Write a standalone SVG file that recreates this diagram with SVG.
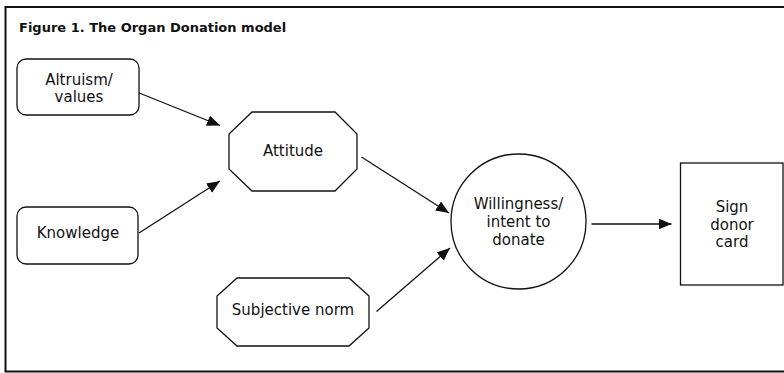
<svg xmlns="http://www.w3.org/2000/svg" width="784" height="373" viewBox="0 0 784 373">
<style>
  .node { fill: #fff; stroke: #111; stroke-width: 1.3; }
  .lbl { font-family: "DejaVu Sans", "Liberation Sans", sans-serif; font-size: 15px; fill: #111; text-anchor: middle; }
  .title { font-family: "DejaVu Sans", "Liberation Sans", sans-serif; font-size: 13px; font-weight: bold; fill: #111; }
  .edge { stroke: #111; stroke-width: 1.3; fill: none; marker-end: url(#arrow); }
</style>
<defs>
  <marker id="arrow" markerUnits="userSpaceOnUse" markerWidth="14" markerHeight="12" refX="13" refY="5.5" orient="auto">
    <path d="M0,0 L13,5.5 L0,11 z" fill="#111"/>
  </marker>
</defs>
<rect x="0" y="0" width="784" height="373" fill="#fff"/>
<path d="M784,7 H5.5 V371.5 H784" fill="none" stroke="#111" stroke-width="2"/>
<text class="title" x="19" y="32">Figure 1. The Organ Donation model</text>

<g id="connectors">
  <line class="edge" x1="138" y1="92.5" x2="220" y2="125.5"/>
  <line class="edge" x1="139" y1="233" x2="220" y2="181"/>
  <line class="edge" x1="361.5" y1="157" x2="449" y2="213"/>
  <line class="edge" x1="376.5" y1="311.5" x2="450" y2="248"/>
  <line class="edge" x1="591.5" y1="224" x2="671.5" y2="224"/>
</g>

<g id="altruism">
  <rect class="node" x="17" y="59" width="122" height="56" rx="9"/>
  <text class="lbl" x="79" y="85">Altruism/</text>
  <text class="lbl" x="79" y="102">values</text>
</g>
<g id="knowledge">
  <rect class="node" x="17" y="207" width="121" height="57" rx="9"/>
  <text class="lbl" x="78" y="238">Knowledge</text>
</g>
<g id="attitude">
  <polygon class="node" points="252,112 335,112 357,134 357,169 335,191 252,191 229,169 229,134"/>
  <text class="lbl" x="293" y="156">Attitude</text>
</g>
<g id="subjective-norm">
  <polygon class="node" points="237,278 349,278 369,296 369,328 349,346 237,346 217,328 217,296"/>
  <text class="lbl" x="293" y="315">Subjective norm</text>
</g>
<g id="willingness">
  <circle class="node" cx="518.5" cy="221.5" r="67.5"/>
  <text class="lbl" x="518.5" y="209">Willingness/</text>
  <text class="lbl" x="518.5" y="227">intent to</text>
  <text class="lbl" x="518.5" y="245">donate</text>
</g>
<g id="sign-donor-card">
  <rect class="node" x="680.5" y="163" width="102.5" height="122"/>
  <text class="lbl" x="732" y="212">Sign</text>
  <text class="lbl" x="732" y="230">donor</text>
  <text class="lbl" x="732" y="247">card</text>
</g>
</svg>
